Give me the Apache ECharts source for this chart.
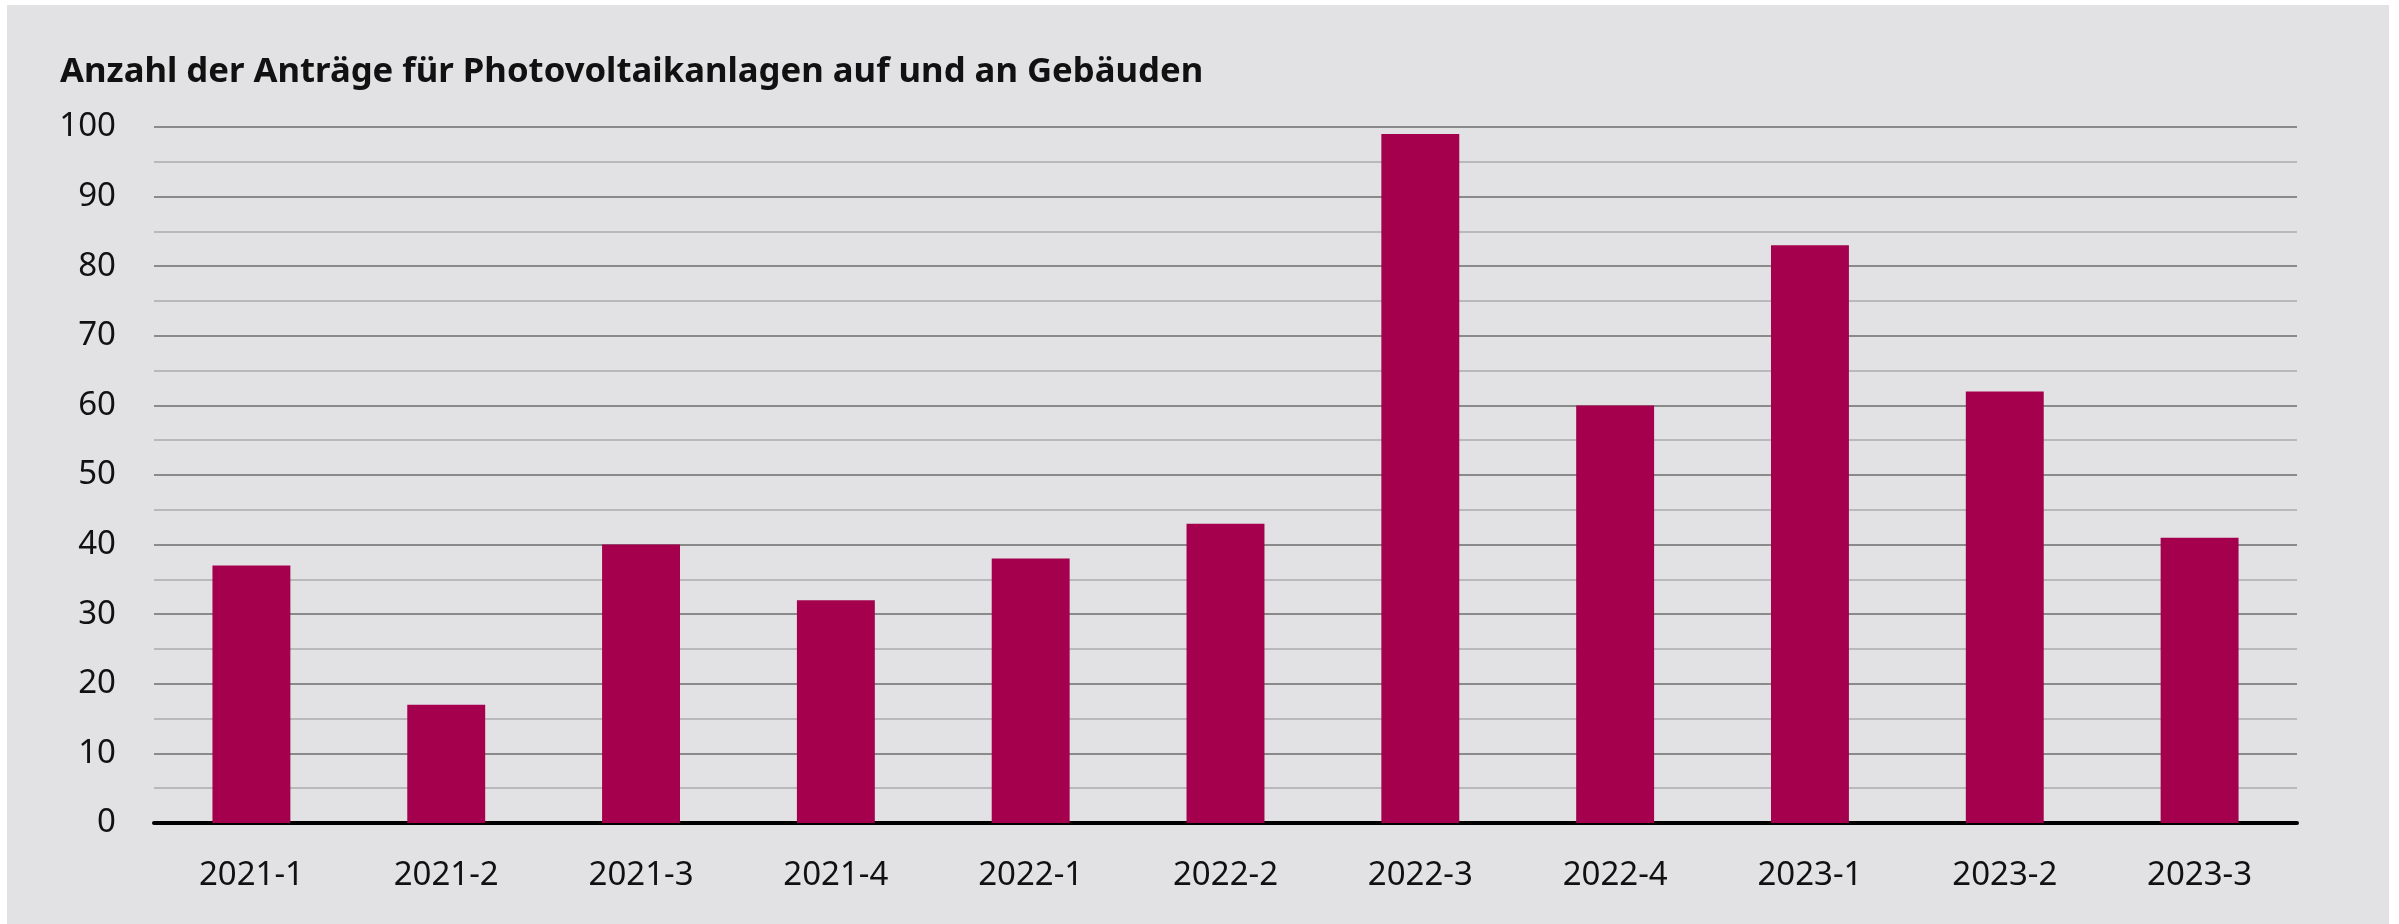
<!DOCTYPE html>
<html>
<head>
<meta charset="utf-8">
<script src="https://cdn.jsdelivr.net/npm/echarts@6/dist/echarts.min.js"></script>
<style>
	html, body { margin: 0; padding: 0; background: #ffffff; }
	#chart { position: absolute; left: 7px; top: 5px; width: 2382px; height: 919px; background: #e2e2e4; }
</style>
</head>
<body>
<div id="chart"></div>
<script>
// Quartale und Anzahl der Anträge
const quartale = [ '2021-1', '2021-2', '2021-3', '2021-4', '2022-1', '2022-2', '2022-3', '2022-4', '2023-1', '2023-2', '2023-3' ];
const antraege = [ 37, 17, 40, 32, 38, 43, 99, 60, 83, 62, 41 ];
const titel = 'Anzahl der Anträge für Photovoltaikanlagen auf und an Gebäuden';

const myChart = echarts.init( document.getElementById( 'chart' ) );
const options = {
	backgroundColor: '#e2e2e4',
	animation: false,
	title: {
		text: titel,
		left: 48,
		top: 45,
		textStyle: {
			fontFamily: 'Noto Sans',
			fontWeight: 'bold',
			fontSize: 34.7,
			color: '#111111'
		}
	},
	grid: {
		left: 147,
		right: 92,
		top: 122,
		bottom: 101
	},
	xAxis: {
		type: 'category',
		data: quartale,
		axisTick: { show: false },
		axisLine: { lineStyle: { color: '#000000', width: 4 } },
		axisLabel: {
			margin: 36,
			fontFamily: 'Noto Sans',
			fontSize: 33,
			color: '#111111'
		}
	},
	yAxis: {
		type: 'value',
		min: 0,
		max: 100,
		interval: 10,
		axisLine: { show: false },
		axisTick: { show: false },
		axisLabel: {
			margin: 38,
			fontFamily: 'Noto Sans',
			fontSize: 33,
			color: '#111111'
		},
		splitLine: { lineStyle: { color: '#8a8a8a', width: 2 } },
		minorTick: { show: false, splitNumber: 2 },
		minorSplitLine: { show: true, lineStyle: { color: '#b9b9bb', width: 2 } }
	},
	series: [ {
		type: 'bar',
		data: antraege,
		barWidth: '40%',
		itemStyle: { color: '#a5004d' }
	} ]
};
myChart.setOption( options );
</script>
</body>
</html>
